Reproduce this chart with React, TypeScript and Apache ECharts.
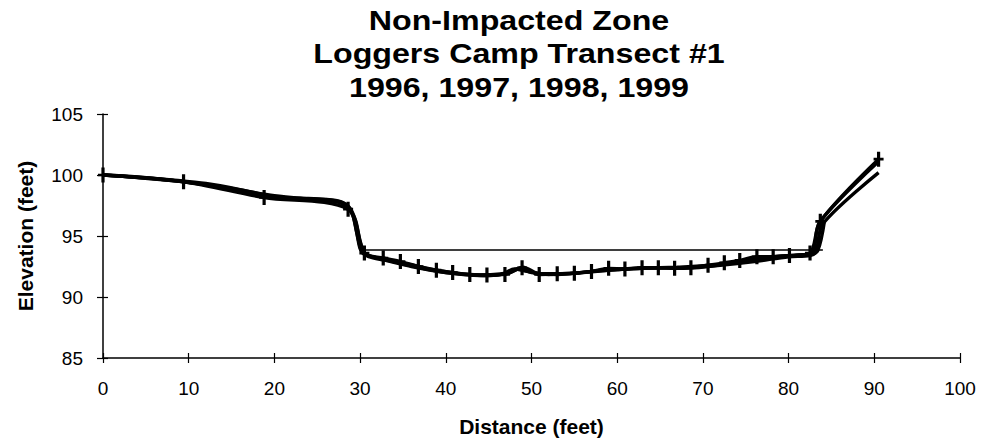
import React, { useEffect, useRef } from "react";
import * as echarts from "echarts";

// Tick values
const xTicks = [0, 10, 20, 30, 40, 50, 60, 70, 80, 90, 100];
const yTicks = [85, 90, 95, 100, 105];

// Survey year 1999 (with + markers)
const dist1999 = [0, 9.4, 18.8, 28.6, 30.5, 32.7, 34.7, 36.8, 38.9, 40.8, 42.8, 44.8, 46.9, 48.9, 50.9, 53.0, 55.0, 57.0, 59.0, 60.9, 62.9, 64.8, 66.7, 68.6, 70.6, 72.5, 74.3, 76.3, 78.2, 80.1, 82.5, 83.7, 90.5];
const elev1999 = [100.0, 99.45, 98.15, 97.2, 93.6, 93.2, 92.9, 92.5, 92.2, 92.0, 91.85, 91.8, 91.85, 92.4, 91.85, 91.9, 91.95, 92.1, 92.35, 92.3, 92.4, 92.4, 92.35, 92.4, 92.6, 92.8, 93.0, 93.3, 93.3, 93.4, 93.6, 96.2, 101.3];

// Survey year 1998
const dist1998 = [0, 5, 10, 15, 20, 24, 26.5, 28, 29, 29.6, 30.1, 31, 33, 36, 40, 44, 47, 48.5, 50, 53, 57, 61, 65, 69, 73, 77, 81, 82.8, 83.6, 90.5];
const elev1998 = [100.0, 99.75, 99.4, 98.9, 98.3, 98.05, 97.95, 97.7, 97.0, 95.3, 93.8, 93.4, 93.05, 92.55, 92.0, 91.8, 91.95, 92.35, 92.0, 91.85, 92.1, 92.3, 92.4, 92.4, 92.75, 93.25, 93.4, 93.6, 96.1, 101.1];

// Survey year 1997
const dist1997 = [0, 4, 8, 12, 16, 20, 23, 26, 27.8, 28.8, 29.5, 30.0, 30.6, 32, 35, 38, 42, 45, 47.5, 49, 51, 55, 59, 63, 67, 71, 75, 79, 82.5, 83.4, 84.2];
const elev1997 = [100.0, 99.8, 99.55, 99.2, 98.7, 98.2, 98.1, 98.0, 97.8, 97.3, 96.2, 94.6, 93.5, 93.2, 92.8, 92.3, 91.9, 91.75, 92.0, 92.45, 91.9, 91.95, 92.25, 92.35, 92.45, 92.6, 92.95, 93.35, 93.5, 93.8, 96.3];

// Survey year 1996
const dist1996 = [0, 4, 8, 12, 16, 20, 23, 26, 27.5, 28.5, 29.2, 29.7, 30.2, 31, 33, 36, 40, 44, 46.5, 48, 49.5, 52, 56, 60, 64, 68, 72, 76, 80, 82.5, 83.2, 84, 90.5];
const elev1996 = [100.0, 99.85, 99.6, 99.3, 98.8, 98.2, 98.0, 97.9, 97.75, 97.4, 96.6, 95.0, 93.7, 93.3, 93.0, 92.5, 92.0, 91.75, 91.85, 92.3, 92.1, 91.85, 92.0, 92.25, 92.4, 92.4, 92.6, 92.9, 93.3, 93.4, 93.7, 96.0, 100.2];

// Water surface line
const distWater = [30.3, 32.7, 84.0];
const elevWater = [93.85, 93.85, 93.85];

const titleLines = ["Non-Impacted Zone", "Loggers Camp Transect #1", "1996, 1997, 1998, 1999"];

const pair = (xs: number[], ys: number[]) => xs.map((x, i) => [x, ys[i]]);

const PLUS = "path://M3.4,0h3.2v6.2h3.4v2.6h-3.4v6.2h-3.2v-6.2h-3.4v-2.6h3.4z";

export default function App() {
  const ref = useRef<HTMLDivElement>(null);
  useEffect(() => {
    if (!ref.current) return;
    const chart = echarts.init(ref.current, undefined, { renderer: "svg" });
    const font = "Liberation Sans, Arial, Helvetica, sans-serif";
    const lineBase = { type: "line", xAxisIndex: 0, yAxisIndex: 0, smooth: 0.3, showSymbol: false, lineStyle: { color: "#000", width: 3.4 }, itemStyle: { color: "#000" }, z: 3 };
    chart.setOption({
      animation: false,
      backgroundColor: "#fff",
      textStyle: { fontFamily: font },
      graphic: titleLines.map((t, i) => ({
        type: "text",
        x: 519,
        y: 20 + i * 33.5,
        scaleX: 1.15,
        style: { text: t, fontSize: 28, fontWeight: "bold", fontFamily: font, fill: "#000", align: "center", verticalAlign: "middle" },
      })),
      grid: { left: 103, right: 21, top: 114, bottom: 89, containLabel: false },
      xAxis: [
        {
          type: "value", min: 0, max: 100, interval: 10,
          name: "Distance (feet)", nameLocation: "middle", nameGap: 58,
          nameTextStyle: { fontSize: 21, fontWeight: "bold", color: "#000", fontFamily: font },
          axisLine: { show: true, onZero: false, lineStyle: { color: "#000", width: 1.5 } },
          axisTick: { show: true, length: 5, lineStyle: { color: "#000", width: 1.2 } },
          axisLabel: { color: "#000", fontSize: 19, margin: 21, fontFamily: font, customValues: xTicks },
          splitLine: { show: false },
        },
        {
          type: "value", min: 0, max: 100, interval: 10, position: "bottom", gridIndex: 0,
          axisLine: { show: false },
          axisTick: { show: true, inside: true, length: 5, lineStyle: { color: "#000", width: 1.2 } },
          axisLabel: { show: false },
          splitLine: { show: false },
        },
      ],
      yAxis: [
        {
          type: "value", min: 85, max: 105, interval: 5,
          name: "Elevation (feet)", nameLocation: "middle", nameGap: 67,
          nameTextStyle: { fontSize: 21, fontWeight: "bold", color: "#000", fontFamily: font },
          axisLine: { show: true, onZero: false, lineStyle: { color: "#000", width: 1.5 } },
          axisTick: { show: true, length: 6, lineStyle: { color: "#000", width: 1.2 } },
          axisLabel: { color: "#000", fontSize: 19, margin: 20, fontFamily: font, customValues: yTicks },
          splitLine: { show: false },
        },
        {
          type: "value", min: 85, max: 105, interval: 5, position: "left", gridIndex: 0,
          axisLine: { show: false },
          axisTick: { show: true, inside: true, length: 5, lineStyle: { color: "#000", width: 1.2 } },
          axisLabel: { show: false },
          splitLine: { show: false },
        },
      ],
      series: [
        { ...lineBase, name: "1996", data: pair(dist1996, elev1996) },
        { ...lineBase, name: "1997", data: pair(dist1997, elev1997) },
        { ...lineBase, name: "1998", data: pair(dist1998, elev1998) },
        {
          ...lineBase, name: "1999", data: pair(dist1999, elev1999),
          showSymbol: true, symbol: PLUS, symbolSize: [10, 15], z: 4,
        },
        {
          type: "line", name: "Water surface", xAxisIndex: 0, yAxisIndex: 0,
          data: pair(distWater, elevWater), showSymbol: false,
          lineStyle: { color: "#000", width: 1.6 }, z: 2,
        },
      ],
    });
    return () => chart.dispose();
  }, []);
  return <div ref={ref} style={{ position: "fixed", left: 0, top: 0, width: 981, height: 447, background: "#fff" }} />;
}
